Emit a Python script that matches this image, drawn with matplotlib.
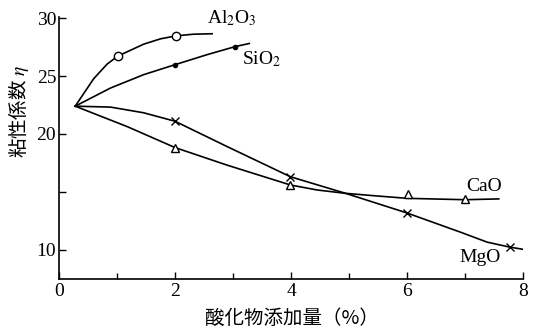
import numpy as np
import matplotlib
matplotlib.use("Agg")
import matplotlib.pyplot as plt
from matplotlib.ticker import FixedLocator, FixedFormatter

plt.rcParams['font.family'] = ['Liberation Serif', 'Noto Sans CJK JP', 'DejaVu Sans']
plt.rcParams['mathtext.fontset'] = 'stix'

# Curves
al_x = [0.28, 0.60, 0.83, 1.01, 1.46, 1.75, 2.02, 2.32, 2.64]
al_y = [22.4, 24.78, 26.03, 26.71, 27.75, 28.21, 28.47, 28.61, 28.65]
al_mx = [1.01, 2.02]
al_my = [26.71, 28.47]

si_x = [0.28, 0.89, 1.46, 2.0, 2.55, 3.03, 3.28]
si_y = [22.4, 23.97, 25.12, 25.98, 26.84, 27.53, 27.81]
si_mx = [2.0, 3.03]
si_my = [25.98, 27.53]

mg_x = [0.28, 0.89, 1.46, 2.0, 2.90, 3.99, 4.94, 5.99, 6.92, 7.38, 7.77, 8.01]
mg_y = [22.4, 22.32, 21.83, 21.1, 18.91, 16.31, 14.88, 13.2, 11.53, 10.67, 10.24, 10.04]
mg_mx = [2.0, 3.99, 5.99, 7.77]
mg_my = [21.1, 16.31, 13.2, 10.24]

ca_x = [0.28, 1.18, 2.0, 2.90, 3.99, 4.45, 4.94, 5.49, 6.0, 7.0, 7.58]
ca_y = [22.4, 20.63, 18.83, 17.31, 15.6, 15.17, 14.88, 14.65, 14.45, 14.33, 14.4]
ca_mx = [2.0, 3.99, 6.02, 6.99]
ca_my = [18.83, 15.6, 14.85, 14.4]

x_ticks = [0, 2, 4, 6, 8]
x_minor = [1, 3, 5, 7]
y_ticks = [10, 15, 20, 25, 30]
y_labels = ['10', '', '20', '25', '30']

fig = plt.figure(figsize=(5.36, 3.32), dpi=100)
ax = fig.add_axes([0.110, 0.160, 0.866, 0.789])

lw = 1.2
ax.plot(al_x, al_y, color='black', lw=lw)
ax.plot(al_mx, al_my, 'o', ms=6, mfc='white', mec='black', mew=1.0)
ax.plot(si_x, si_y, color='black', lw=lw)
ax.plot(si_mx, si_my, 'o', ms=3, color='black')
ax.plot(mg_x, mg_y, color='black', lw=lw)
ax.plot(mg_mx, mg_my, 'x', ms=6, color='black', mew=1.0)
ax.plot(ca_x, ca_y, color='black', lw=lw)
ax.plot(ca_mx, ca_my, '^', ms=6, mfc='white', mec='black', mew=1.0)

ax.set_xlim(0, 8)
ax.set_ylim(7.5, 30.1)
ax.spines['top'].set_visible(False)
ax.spines['right'].set_visible(False)
ax.spines['left'].set_linewidth(1.2)
ax.spines['bottom'].set_linewidth(1.2)

ax.xaxis.set_major_locator(FixedLocator(x_ticks))
ax.xaxis.set_minor_locator(FixedLocator(x_minor))
ax.yaxis.set_major_locator(FixedLocator(y_ticks))
ax.yaxis.set_major_formatter(FixedFormatter(y_labels))
ax.tick_params(axis='both', which='major', direction='in', length=5, width=1.0, labelsize=14, pad=3)
ax.tick_params(axis='x', which='minor', direction='in', length=4, width=1.0)
ax.tick_params(axis='y', which='major', pad=2)

ax.text(2.55, 29.15, 'Al$_2$O$_3$', fontsize=14, ha='left', va='bottom')
ax.text(3.15, 25.65, 'SiO$_2$', fontsize=14, ha='left', va='bottom')
ax.text(7.02, 14.7, 'CaO', fontsize=14, ha='left', va='bottom')
ax.text(6.9, 8.6, 'MgO', fontsize=14, ha='left', va='bottom')

fig.text(0.545, 0.04, '酸化物添加量（%）', fontsize=14, ha='center', va='center',
         family=['Noto Sans CJK JP', 'DejaVu Sans'])
fig.text(0.035, 0.665, '粘性係数 $\\eta$', fontsize=14, ha='center', va='center', rotation=90,
         family=['Noto Sans CJK JP', 'DejaVu Sans'])

fig.savefig('out.png', dpi=100)
